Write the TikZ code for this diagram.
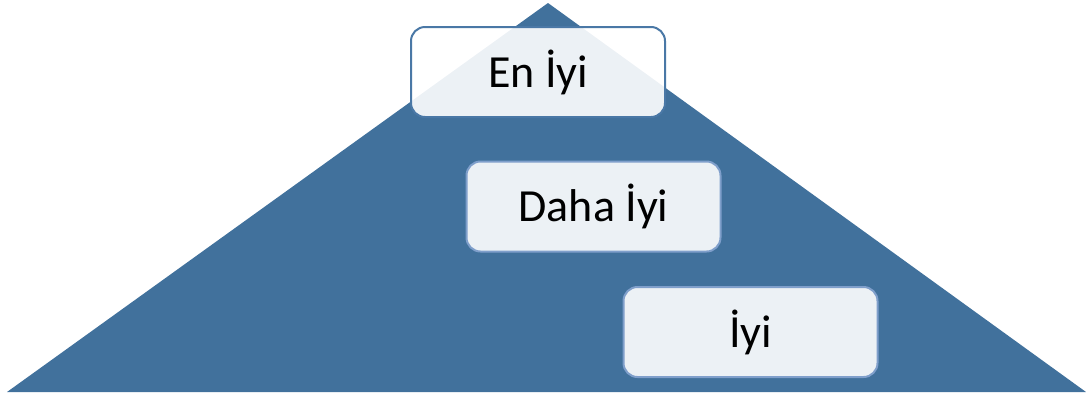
\documentclass[tikz,border=0pt]{standalone}
\usepackage{fontspec}
\setmainfont{Carlito}
\definecolor{pyr}{HTML}{41719C}
\definecolor{bordtop}{HTML}{4A78A6}
\definecolor{bordlow}{HTML}{7F9FCB}
\tikzset{
  lvlbox/.style={draw=bordlow, line width=2pt, fill=white, fill opacity=0.9, text opacity=1,
    rounded corners=14pt, minimum width=254pt, minimum height=90pt, inner sep=0pt,
    font=\fontsize{46}{54}\selectfont, text=black},
}
\begin{document}
\begin{tikzpicture}[x=1pt,y=-1pt]
\useasboundingbox (0,0) rectangle (1086,397);
\fill[pyr] (7,392) coordinate (bl) -- (548,3) coordinate (ap) -- (1086,392) coordinate (br) -- cycle;
\node[lvlbox, draw=bordtop] (top) at (538,72) {En İyi};
\node[lvlbox] (mid) at (593.5,206.5) {Daha İyi};
\node[lvlbox] (low) at (750.5,332) {İyi};
\end{tikzpicture}
\end{document}
